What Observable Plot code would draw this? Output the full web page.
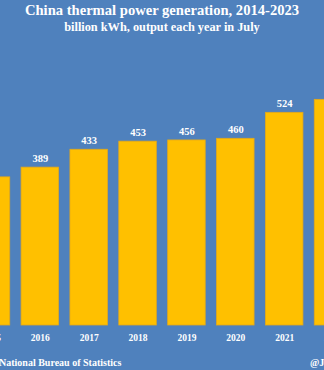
<!DOCTYPE html>
<html><head><meta charset="utf-8">
<script src="https://cdn.jsdelivr.net/npm/d3@7"></script>
<script src="https://cdn.jsdelivr.net/npm/@observablehq/plot@0.6"></script>
<style>
html,body{margin:0;padding:0;background:#4F81BD;width:324px;height:370px;overflow:hidden;position:relative;font-family:"Liberation Serif",serif;color:#fff;font-weight:bold}
#title{position:absolute;left:0;width:324px;top:1px;text-align:center;font-size:14.6px;line-height:18px;white-space:nowrap}
#subtitle{position:absolute;left:0;width:324px;top:19px;text-align:center;font-size:12.3px;line-height:16px;white-space:nowrap}
#chart{position:absolute;left:-100px;top:40px;width:524px;height:310px}
#chart svg{max-width:none}
#src{position:absolute;left:-1px;top:356px;font-size:10px;line-height:14px;white-space:nowrap}
#src span{position:absolute;right:100%;white-space:pre}
#handle{position:absolute;left:310px;top:356px;font-size:10px;line-height:14px;white-space:nowrap}
</style></head>
<body>
<div id="title">China thermal power generation, 2014-2023</div>
<div id="subtitle">billion kWh, output each year in July</div>
<div id="chart"></div>
<div id="src"><span>Source: </span>National Bureau of Statistics</div>
<div id="handle">@JKempEnergy</div>
<script>
const years = ["2014","2015","2016","2017","2018","2019","2020","2021","2022","2023"];
const values = [381, 365, 389, 433, 453, 456, 460, 524, 556, 578];
const data = years.map((y, i) => ({year: y, value: values[i]}));
const chart = Plot.plot({
  width: 524, height: 310,
  marginLeft: 12, marginRight: 12, marginTop: 41.5, marginBottom: 25,
  style: {background: "transparent", color: "#fff", fontFamily: "'Liberation Serif', serif", fontSize: "9.5px", fontWeight: "bold", overflow: "visible", maxWidth: "none"},
  x: {type: "band", domain: years, padding: 0.232, round: false, label: null, tickSize: 0, tickPadding: 9},
  y: {domain: [0, 600], axis: null},
  marks: [
    Plot.barY(data, {x: "year", y: "value", fill: "#FFC000", stroke: "#E3A81A", strokeWidth: 0.8}),
    Plot.text(data, {x: "year", y: "value", text: d => String(d.value), dy: -9, fill: "#fff", fontSize: 10.5, fontWeight: "bold"})
  ]
});
document.getElementById("chart").append(chart);
</script>
</body></html>
